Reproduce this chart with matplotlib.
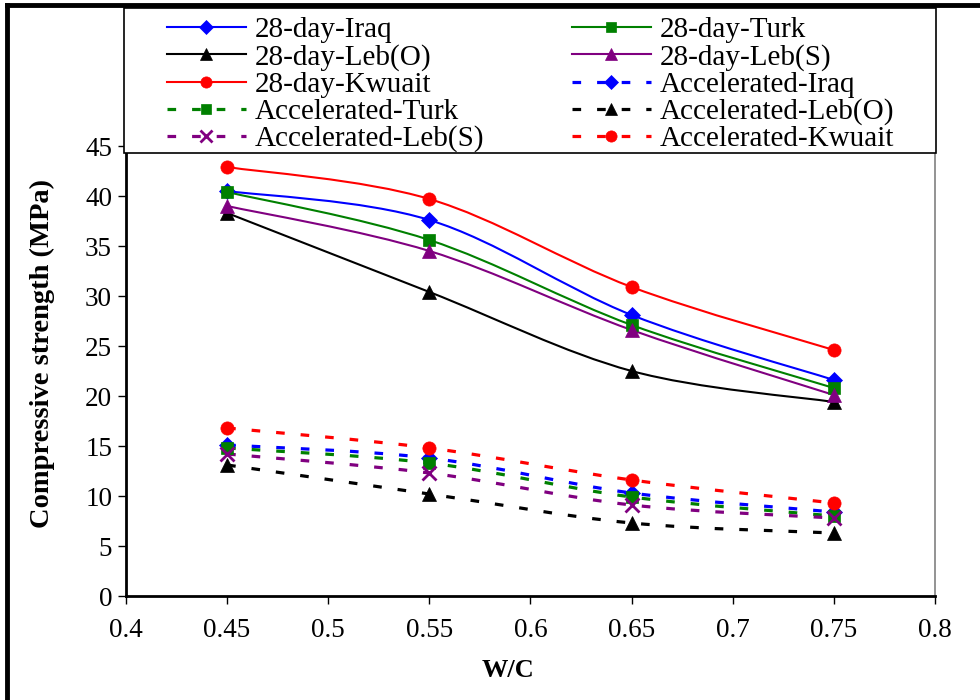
import numpy as np
import matplotlib.pyplot as plt
from matplotlib.path import Path
from matplotlib.patches import PathPatch, Rectangle
from matplotlib.lines import Line2D

plt.rcParams['font.family'] = ['Liberation Serif', 'DejaVu Serif']

# W/C ratios and compressive strength (MPa)
wc = [0.45, 0.55, 0.65, 0.75]

day28_iraq = [40.5, 37.6, 28.1, 21.6]
day28_turk = [40.4, 35.6, 27.1, 20.8]
day28_lebo = [38.3, 30.4, 22.5, 19.4]
day28_lebs = [39.0, 34.5, 26.6, 20.1]
day28_kwuait = [42.9, 39.7, 30.9, 24.6]

acc_iraq = [15.1, 13.8, 10.3, 8.4]
acc_turk = [14.8, 13.3, 9.9, 8.0]
acc_lebo = [13.1, 10.2, 7.3, 6.3]
acc_lebs = [14.2, 12.3, 9.1, 7.8]
acc_kwuait = [16.8, 14.8, 11.6, 9.3]

series = [
    ('28-day-Iraq', day28_iraq, 'blue', 'D', '-'),
    ('28-day-Turk', day28_turk, 'green', 's', '-'),
    ('28-day-Leb(O)', day28_lebo, 'black', '^', '-'),
    ('28-day-Leb(S)', day28_lebs, 'purple', '^', '-'),
    ('28-day-Kwuait', day28_kwuait, 'red', 'o', '-'),
    ('Accelerated-Iraq', acc_iraq, 'blue', 'D', '--'),
    ('Accelerated-Turk', acc_turk, 'green', 's', '--'),
    ('Accelerated-Leb(O)', acc_lebo, 'black', '^', '--'),
    ('Accelerated-Leb(S)', acc_lebs, 'purple', 'x', '--'),
    ('Accelerated-Kwuait', acc_kwuait, 'red', 'o', '--'),
]

marker_size = {'D': 8.5, 's': 8.5, '^': 10, 'o': 9.5, 'x': 10}
dash = (0, (2.7, 5.0))


def smooth_path(xs, ys):
    # Excel-style smoothed line as cubic Bezier segments
    pts = list(zip(xs, ys))
    n = len(pts)
    verts = [pts[0]]
    codes = [Path.MOVETO]
    for i in range(n - 1):
        p0 = pts[i - 1] if i > 0 else pts[i]
        p1 = pts[i]
        p2 = pts[i + 1]
        p3 = pts[i + 2] if i + 2 < n else pts[i + 1]
        c1 = (p1[0] + (p2[0] - p0[0]) / 6, p1[1] + (p2[1] - p0[1]) / 6)
        c2 = (p2[0] - (p3[0] - p1[0]) / 6, p2[1] - (p3[1] - p1[1]) / 6)
        verts += [c1, c2, p2]
        codes += [Path.CURVE4] * 3
    return Path(verts, codes)


fig = plt.figure(figsize=(9.8, 7), dpi=100)
ax = fig.add_axes([126 / 980, 1 - 596 / 700, 809 / 980, 450 / 700])

handles = []
for label, vals, color, mk, ls in series:
    lw = 1.5 if ls == '-' else 2.3
    style = '-' if ls == '-' else dash
    ax.add_patch(PathPatch(smooth_path(wc, vals), fill=False, edgecolor=color,
                           lw=lw, linestyle=style, capstyle='butt', zorder=2))
    mew = 2.0 if mk == 'x' else 0.5
    ax.plot(wc, vals, linestyle='none', marker=mk, ms=marker_size[mk],
            color=color, mec=color, mew=mew, zorder=3)
    handles.append(Line2D([], [], color=color, lw=lw, linestyle=style,
                          dash_capstyle='butt', marker=mk, ms=marker_size[mk] * 0.85,
                          mec=color, mew=mew, label=label))

ax.set_xlim(0.4, 0.8)
ax.set_ylim(0, 45)
ax.set_xticks(np.arange(0.4, 0.81, 0.05))
ax.set_xticklabels(['0.4', '0.45', '0.5', '0.55', '0.6', '0.65', '0.7', '0.75', '0.8'])
ax.set_yticks(range(0, 46, 5))
ax.tick_params(direction='out', length=6, width=1, labelsize=19.5, pad=4)
ax.tick_params(axis='x', pad=10)

ax.spines['top'].set_visible(False)
ax.spines['right'].set_color('#808080')
ax.spines['right'].set_linewidth(1.2)
ax.spines['left'].set_linewidth(2)
ax.spines['bottom'].set_linewidth(2)

ax.set_xlabel('W/C', fontsize=19, fontweight='bold')
ax.set_ylabel('Compressive strength (MPa)', fontsize=20.5, fontweight='bold')
ax.xaxis.set_label_coords(0.472, -0.14)
ax.yaxis.set_label_coords(-0.088, 0.54)

# legend box over the top of the plot area
fig.add_artist(Rectangle((124 / 980, 1 - 153 / 700), (936 - 124) / 980, 145 / 700,
                         transform=fig.transFigure, facecolor='white',
                         edgecolor='black', lw=1.2, zorder=5))
col1 = [handles[i] for i in (0, 2, 4, 6, 8)]
col2 = [handles[i] for i in (1, 3, 5, 7, 9)]
for hs, x0 in ((col1, 167), (col2, 572)):
    leg = fig.legend(handles=hs, loc='upper left',
                     bbox_to_anchor=(x0 / 980, 1 - 17 / 700),
                     frameon=False, fontsize=21, borderpad=0, borderaxespad=0,
                     handlelength=2.7, handletextpad=0.3, labelspacing=0.02,
                     numpoints=1)
    leg.set_zorder(6)

# thick outer frame on top and left
fig.add_artist(Line2D([7 / 980, 7 / 980], [0, 1 - 5 / 700], transform=fig.transFigure,
                      color='black', lw=3.5))
fig.add_artist(Line2D([7 / 980, 1], [1 - 5 / 700, 1 - 5 / 700], transform=fig.transFigure,
                      color='black', lw=3.5))

fig.savefig('out.png', dpi=100)
